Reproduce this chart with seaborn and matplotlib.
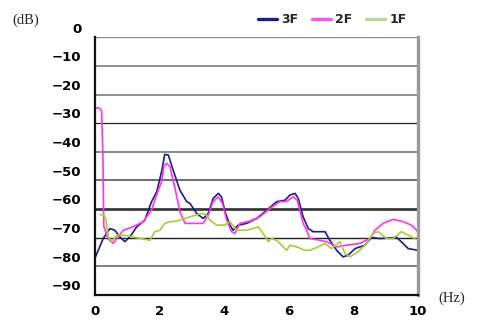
import matplotlib
matplotlib.use("Agg")
import matplotlib.pyplot as plt
import matplotlib.transforms as mtransforms
from matplotlib.lines import Line2D
import numpy as np
import pandas as pd
import seaborn as sns

# Frequency spectra per floor (Hz, dB)
freq_3f = [0.0, 0.24, 0.45, 0.6, 0.76, 0.91, 1.07, 1.28, 1.53, 1.74, 1.9, 2.05, 2.15, 2.26,
           2.41, 2.62, 2.83, 2.93, 3.14, 3.34, 3.5, 3.65, 3.81, 3.91, 4.02, 4.17, 4.27, 4.43,
           4.69, 5.0, 5.31, 5.62, 5.88, 6.03, 6.19, 6.29, 6.44, 6.6, 6.75, 7.12, 7.27, 7.48,
           7.68, 7.84, 8.05, 8.36, 8.56, 8.82, 9.34, 9.54, 9.7, 10.0]
db_3f = [-76.7, -70.3, -66.8, -67.4, -69.7, -71.4, -69.7, -66.2, -63.9, -57.4, -54.0, -47.0,
         -40.9, -41.1, -46.4, -53.4, -57.4, -58.0, -61.5, -63.3, -61.5, -56.3, -54.5, -55.7,
         -61.0, -65.6, -67.4, -65.6, -65.0, -63.3, -60.4, -57.4, -56.9, -55.1, -54.5, -56.3,
         -62.7, -66.8, -67.9, -67.9, -70.9, -74.4, -76.7, -76.1, -73.8, -72.6, -69.9, -70.3,
         -69.9, -72.0, -73.8, -74.4]

freq_2f = [0.0, 0.1, 0.19, 0.23, 0.26, 0.4, 0.55, 0.86, 1.17, 1.48, 1.74, 1.9, 2.05, 2.12,
           2.2, 2.31, 2.47, 2.62, 2.78, 3.24, 3.34, 3.5, 3.65, 3.81, 3.94, 4.07, 4.22, 4.33,
           4.48, 4.79, 5.1, 5.41, 5.72, 5.93, 6.13, 6.26, 6.44, 6.55, 6.65, 6.96, 7.17, 7.48,
           7.79, 8.2, 8.51, 8.67, 8.92, 9.23, 9.54, 9.8, 10.0]
db_2f = [-24.6, -24.6, -25.5, -40.0, -66.0, -70.5, -72.0, -67.4, -66.2, -64.4, -60.4, -55.0,
         -50.5, -45.2, -44.0, -45.2, -52.8, -61.0, -65.0, -65.0, -65.0, -62.1, -57.4, -55.7,
         -58.0, -63.9, -67.9, -68.5, -65.0, -64.2, -62.7, -59.8, -57.4, -57.4, -55.7, -56.9,
         -65.0, -67.4, -70.3, -70.9, -71.4, -73.2, -72.6, -72.0, -70.3, -67.4, -65.0, -63.6,
         -64.4, -65.6, -67.9]

freq_1f = [0.15, 0.26, 0.33, 0.4, 0.5, 0.66, 0.86, 1.28, 1.69, 1.84, 2.0, 2.15, 2.31, 2.52,
           2.93, 3.29, 3.45, 3.55, 3.76, 4.02, 4.17, 4.38, 4.69, 5.05, 5.2, 5.36, 5.46, 5.62,
           5.93, 6.03, 6.24, 6.5, 6.65, 6.91, 7.12, 7.32, 7.58, 7.74, 7.89, 8.15, 8.41, 8.61,
           8.77, 9.03, 9.23, 9.49, 9.7, 9.9]
db_1f = [-62.0, -62.0, -63.9, -69.7, -71.4, -69.1, -69.1, -70.0, -70.9, -67.9, -67.4, -65.0,
         -64.4, -64.2, -62.7, -61.5, -62.1, -63.9, -65.6, -65.6, -64.4, -67.4, -67.4, -66.2,
         -68.5, -71.4, -70.3, -70.9, -74.4, -72.6, -73.2, -74.4, -74.4, -73.2, -72.0, -73.8,
         -71.4, -75.5, -76.7, -74.9, -72.0, -68.5, -67.9, -70.3, -70.3, -67.9, -69.1, -70.3]

series_names = ["3F", "2F", "1F"]
series_colors = ["#1c1c8a", "#ff33ee", "#a9cc34"]
legend_colors = ["#1c1c8a", "#ff55ee", "#bfd49a"]
y_ticks = [0, -10, -20, -30, -40, -50, -60, -70, -80, -90]
x_ticks = [0, 2, 4, 6, 8, 10]

df = pd.concat([
    pd.DataFrame({"freq": freq_3f, "db": db_3f, "floor": "3F"}),
    pd.DataFrame({"freq": freq_2f, "db": db_2f, "floor": "2F"}),
    pd.DataFrame({"freq": freq_1f, "db": db_1f, "floor": "1F"}),
], ignore_index=True)

sns.set_style("white")
fig = plt.figure(figsize=(4.82, 3.22), dpi=100)
ax = fig.add_axes([0.198, 0.084, 0.669, 0.8])

sns.lineplot(data=df, x="freq", y="db", hue="floor", hue_order=series_names,
             palette=series_colors, sort=False, estimator=None, linewidth=1.2,
             legend=False, ax=ax)

ax.set_xlim(0, 10)
ax.set_ylim(-90, 0)
ax.set_xticks(x_ticks)
ax.set_yticks(y_ticks)
ax.set_xticklabels([str(v) for v in x_ticks])
ax.set_yticklabels(["0"] + [f"\u2212{abs(v)}" for v in y_ticks[1:]])
ax.set_xlabel("")
ax.set_ylabel("")

# horizontal grid in mixed gray / black weights
grid_styles = {0: ("#8a8a8a", 1.7), -10: ("#8f8f8f", 1.4), -20: ("#8f8f8f", 1.4),
               -30: ("#222222", 0.9), -40: ("#888888", 1.4), -50: ("#6e6e6e", 1.4),
               -60: ("#3a3a3a", 2.0), -70: ("#222222", 1.0), -80: ("#777777", 1.3)}
for v, (c, lw) in grid_styles.items():
    ax.axhline(v, color=c, linewidth=lw, zorder=0.5)

for side in ["left", "bottom"]:
    ax.spines[side].set_color("#111111")
    ax.spines[side].set_linewidth(1.6)
ax.spines["top"].set_visible(False)
ax.spines["right"].set_color("#9a9a9a")
ax.spines["right"].set_linewidth(2.4)

ax.tick_params(axis="both", length=0, labelsize=9.5, labelcolor="black")
ax.tick_params(axis="y", pad=10)
ax.tick_params(axis="x", pad=7)
for lab in ax.get_yticklabels() + ax.get_xticklabels():
    lab.set_fontweight("heavy")

# y tick labels sit a little above their grid lines
offset = mtransforms.ScaledTranslation(0, 7 / 72, fig.dpi_scale_trans)
for lab in ax.get_yticklabels():
    lab.set_transform(lab.get_transform() + offset)

fig.text(12 / 482, 1 - 20 / 322, "(dB)", family="Liberation Serif", fontsize=10.5,
         va="center", ha="left")
fig.text(438 / 482, 1 - 298 / 322, "(Hz)", family="Liberation Serif", fontsize=10.5,
         va="center", ha="left")

handles = [Line2D([0], [0], color=c, linewidth=2.4) for c in legend_colors]
leg = ax.legend(handles, series_names, ncol=3, loc="lower right",
                bbox_to_anchor=(0.985, 1.02), frameon=False, handlelength=1.5,
                handletextpad=0.35, columnspacing=1.1, borderaxespad=0.1,
                prop={"weight": "heavy", "size": 9})

fig.savefig("out.png", dpi=100)
